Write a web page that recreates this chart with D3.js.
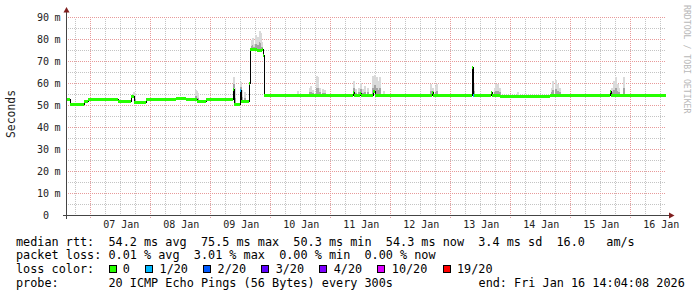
<!DOCTYPE html>
<html>
<head>
<meta charset="utf-8">
<script src="https://cdn.jsdelivr.net/npm/d3@7"></script>
<style>
body { margin: 0; background: #fff; }
svg { display: block; }
text { font-family: "DejaVu Sans Mono", monospace; white-space: pre; }
</style>
</head>
<body>
<div id="chart"></div>
<script>

// time window of the graph
var rangeStart = "2026-01-06 14:04",
    rangeEnd = "2026-01-16 14:04";

// median rtt, as steps (value holds until next time)
var medianTimes = [
  "2026-01-06 14:04","2026-01-06 15:40","2026-01-06 21:16","2026-01-06 22:52",
  "2026-01-07 10:52","2026-01-07 16:04","2026-01-07 17:16","2026-01-07 22:04",
  "2026-01-08 10:04","2026-01-08 14:04","2026-01-08 18:28","2026-01-08 22:04",
  "2026-01-09 08:52","2026-01-09 09:16","2026-01-09 11:40","2026-01-09 12:04",
  "2026-01-09 15:16","2026-01-09 15:40","2026-01-09 18:28","2026-01-09 20:28",
  "2026-01-09 20:52","2026-01-09 21:16",
  "2026-01-11 08:52","2026-01-11 09:16","2026-01-11 11:40","2026-01-11 12:04",
  "2026-01-11 16:52","2026-01-11 17:40",
  "2026-01-12 16:28","2026-01-12 16:52",
  "2026-01-13 08:28","2026-01-13 08:52","2026-01-13 09:16",
  "2026-01-13 16:04","2026-01-13 16:28","2026-01-13 19:40",
  "2026-01-14 15:40",
  "2026-01-15 15:40","2026-01-15 16:04",
  "2026-01-16 14:04"];
var medianMs = [
  52.9, 50.4, 52.0, 52.9,
  52.0, 54.2, 51.5, 52.9,
  53.3, 52.9, 52.0, 52.8,
  57.5, 50.6, 57.0, 52.0,
  59.8, 75.6, 75.1, 75.3,
  72.9, 54.6,
  56.0, 54.6, 55.5, 54.6,
  56.5, 54.6,
  55.8, 54.6,
  67.5, 54.6, 54.6,
  56.0, 54.6, 54.3,
  54.6,
  56.5, 54.6,
  54.6];
// index into lossColors
var medianLoss = [
  0,0,0,0, 0,0,0,0, 0,0,0,0,
  0,0,1,0, 0,0,0,0, 0,0,
  0,0,0,0, 0,0, 0,0,
  0,1,0, 0,0,0, 0, 0,0, 0];

// smoke: highest ping around these times
var smokeTimes = [
  "2026-01-07 16:52","2026-01-07 17:16",
  "2026-01-08 17:40","2026-01-08 18:04","2026-01-08 18:28",
  "2026-01-09 08:52","2026-01-09 09:16","2026-01-09 11:40","2026-01-09 12:04","2026-01-09 13:16",
  "2026-01-09 16:04","2026-01-09 16:28","2026-01-09 16:52","2026-01-09 17:40","2026-01-09 18:28",
  "2026-01-09 19:16","2026-01-09 19:40","2026-01-09 20:04",
  "2026-01-10 10:28","2026-01-10 15:16","2026-01-10 15:40","2026-01-10 16:28","2026-01-10 18:04",
  "2026-01-10 18:28","2026-01-10 19:16","2026-01-10 20:28","2026-01-10 21:16",
  "2026-01-11 08:52","2026-01-11 09:40","2026-01-11 10:52","2026-01-11 11:40","2026-01-11 12:28",
  "2026-01-11 13:16","2026-01-11 14:28","2026-01-11 16:28","2026-01-11 17:16","2026-01-11 18:04",
  "2026-01-11 18:52","2026-01-11 19:40","2026-01-11 20:52",
  "2026-01-12 15:40","2026-01-12 16:28","2026-01-12 17:40","2026-01-12 18:28",
  "2026-01-13 08:28","2026-01-13 08:52",
  "2026-01-13 17:16","2026-01-13 17:40","2026-01-13 18:28","2026-01-13 19:16",
  "2026-01-14 02:28","2026-01-14 16:04","2026-01-14 16:52","2026-01-14 17:40","2026-01-14 18:28",
  "2026-01-14 19:16",
  "2026-01-15 16:04","2026-01-15 16:52","2026-01-15 17:40","2026-01-15 18:28","2026-01-15 19:16",
  "2026-01-15 20:52"];
var smokeTop = [
  56.2, 55.5,
  57.0, 56.5, 55.8,
  63.0, 58.0, 60.7, 57.0, 56.0,
  79.7, 80.5, 78.0, 82.0, 81.0,
  84.0, 83.0, 79.0,
  56.6, 58.0, 59.0, 57.0, 63.3,
  63.0, 58.0, 57.7, 57.0,
  61.0, 57.5, 58.0, 60.3, 57.5,
  59.0, 58.0, 63.5, 63.7, 63.0,
  61.0, 63.0, 56.5,
  60.0, 58.0, 59.0, 60.0,
  67.5, 60.0,
  58.0, 60.0, 60.0, 58.0,
  56.0, 58.0, 61.0, 61.8, 60.0,
  58.0,
  58.0, 61.0, 63.0, 60.0, 58.0,
  63.0];

var yTicks = [0, 10, 20, 30, 40, 50, 60, 70, 80, 90];
var xTickTimes = ["2026-01-07 12:00","2026-01-08 12:00","2026-01-09 12:00","2026-01-10 12:00",
  "2026-01-11 12:00","2026-01-12 12:00","2026-01-13 12:00","2026-01-14 12:00",
  "2026-01-15 12:00","2026-01-16 12:00"];

var lossLabels = ["0", "1/20", "2/20", "3/20", "4/20", "10/20", "19/20"];
var lossColors = ["#26ff00", "#00b8ff", "#0059ff", "#5e00ff", "#7e00ff", "#dd00ff", "#ff0000"];

var legendRtt = "median rtt:  54.2 ms avg  75.5 ms max  50.3 ms min  54.3 ms now  3.4 ms sd  16.0   am/s";
var legendLoss = "packet loss: 0.01 % avg  3.01 % max  0.00 % min  0.00 % now";
var legendProbe = "probe:       20 ICMP Echo Pings (56 Bytes) every 300s";
var legendEnd = "end: Fri Jan 16 14:04:08 2026";


var W = 697, H = 297;
var margin = {top: 17.5, left: 66},
    width = 600,
    height = 198;

var parseTime = d3.timeParse("%Y-%m-%d %H:%M");
var t0 = parseTime(rangeStart), t1 = parseTime(rangeEnd);

var x = d3.scaleTime().domain([t0, t1]).range([margin.left, margin.left + width]);
var y = d3.scaleLinear().domain([0, 90]).range([margin.top + height, margin.top]);

var median = medianTimes.map(function(t, i) {
  return {t: parseTime(t), v: medianMs[i], loss: medianLoss[i]};
});
var smoke = smokeTimes.map(function(t, i) {
  return {t: parseTime(t), top: smokeTop[i]};
});

var svg = d3.select("#chart").append("svg")
    .attr("width", W)
    .attr("height", H)
    .attr("shape-rendering", "crispEdges");

svg.append("rect").attr("width", W).attr("height", H).attr("fill", "#fff");

// grid
function px(v) { return Math.floor(v) + 0.5; }

var grid = svg.append("g");
var x0 = margin.left, x1 = margin.left + width;

var minorY = d3.range(5, 90, 10);
grid.selectAll(".hminor").data(minorY).enter().append("line")
    .attr("x1", x0).attr("x2", x1)
    .attr("y1", function(d) { return px(y(d)); })
    .attr("y2", function(d) { return px(y(d)); })
    .attr("stroke", "#c4c4c4").attr("stroke-dasharray", "1,1");

var sixHours = d3.timeHour.every(6).range(t0, t1).filter(function(d) { return d.getHours() !== 0; });
grid.selectAll(".vminor").data(sixHours).enter().append("line")
    .attr("y1", y(0)).attr("y2", y(90))
    .attr("x1", function(d) { return px(x(d)); })
    .attr("x2", function(d) { return px(x(d)); })
    .attr("stroke", "#c4c4c4").attr("stroke-dasharray", "1,1");

grid.selectAll(".hmajor").data(yTicks.slice(1)).enter().append("line")
    .attr("x1", x0).attr("x2", x1)
    .attr("y1", function(d) { return px(y(d)); })
    .attr("y2", function(d) { return px(y(d)); })
    .attr("stroke", "#e89a9a").attr("stroke-dasharray", "1,1");

var days = d3.timeDay.range(t0, t1);
grid.selectAll(".vmajor").data(days).enter().append("line")
    .attr("y1", y(0) + 2).attr("y2", y(90))
    .attr("x1", function(d) { return px(x(d)); })
    .attr("x2", function(d) { return px(x(d)); })
    .attr("stroke", "#e89a9a").attr("stroke-dasharray", "1,1");

// smoke
var bisect = d3.bisector(function(d) { return d.t; }).right;
function medianAt(t) {
  var i = Math.max(0, bisect(median, t) - 1);
  return median[i].v;
}

var smokeG = svg.append("g");
smoke.forEach(function(s) {
  var m = medianAt(s.t);
  var xs = Math.floor(x(s.t));
  smokeG.append("rect")
      .attr("x", xs).attr("width", 2)
      .attr("y", y(s.top)).attr("height", Math.max(0, y(m) - y(s.top)))
      .attr("fill", "#dadada");
  var mid = m + (s.top - m) * 0.4;
  smokeG.append("rect")
      .attr("x", xs).attr("width", 2)
      .attr("y", y(mid)).attr("height", Math.max(0, y(m) - y(mid)))
      .attr("fill", "#a4a4a4");
});

// median: thin dark step line, then loss coloured segments
var stepLine = d3.line()
    .x(function(d) { return x(d.t); })
    .y(function(d) { return px(y(d.v)); })
    .curve(d3.curveStepAfter);

svg.append("path")
    .datum(median)
    .attr("d", stepLine)
    .attr("fill", "none")
    .attr("stroke", "#000")
    .attr("stroke-width", 1);

svg.append("g").selectAll("line")
    .data(median.slice(0, -1))
    .enter().append("line")
    .attr("x1", function(d) { return x(d.t); })
    .attr("x2", function(d, i) { return x(median[i + 1].t); })
    .attr("y1", function(d) { return px(y(d.v)); })
    .attr("y2", function(d) { return px(y(d.v)); })
    .attr("stroke", function(d) { return lossColors[d.loss]; })
    .attr("stroke-width", 3);

// axes
var yAxis = svg.append("g")
    .attr("transform", "translate(" + margin.left + ",0)")
    .call(d3.axisLeft(y).tickValues(yTicks).tickSize(0).tickPadding(17).tickFormat(d3.format("d")));
yAxis.select(".domain").remove();
yAxis.selectAll("text")
    .attr("font-family", "DejaVu Sans Mono")
    .attr("font-size", 10)
    .attr("fill", "#222")
    .attr("dy", "0.3em");
yAxis.selectAll(".tick").filter(function(d) { return d > 0; })
    .append("text")
    .attr("x", -11.5)
    .attr("dy", "0.3em")
    .attr("font-family", "DejaVu Sans Mono")
    .attr("font-size", 10)
    .attr("fill", "#222")
    .attr("text-anchor", "start")
    .text("m");

var xAxis = svg.append("g")
    .attr("transform", "translate(0," + (y(0)) + ")")
    .call(d3.axisBottom(x).tickValues(xTickTimes.map(parseTime)).tickSize(0).tickPadding(5.5)
      .tickFormat(d3.timeFormat("%d %b")));
xAxis.select(".domain").remove();
xAxis.selectAll("text")
    .attr("font-family", "DejaVu Sans Mono")
    .attr("font-size", 10)
    .attr("fill", "#222");

// axis lines and arrows
svg.append("line")
    .attr("x1", margin.left + 0.5).attr("x2", margin.left + 0.5)
    .attr("y1", y(0) + 3).attr("y2", 12)
    .attr("stroke", "#444");
svg.append("line")
    .attr("x1", margin.left - 3).attr("x2", margin.left + width + 4)
    .attr("y1", y(0)).attr("y2", y(0))
    .attr("stroke", "#444");
svg.append("path")
    .attr("d", "M63.5,12.5L69.5,12.5L66.5,7Z")
    .attr("fill", "#7f1f1f")
    .attr("shape-rendering", "auto");
svg.append("path")
    .attr("d", "M669," + (y(0) - 3) + "L669," + (y(0) + 3) + "L674.5," + y(0) + "Z")
    .attr("fill", "#7f1f1f")
    .attr("shape-rendering", "auto");

// axis title
svg.append("text")
    .attr("transform", "translate(14.5,114) rotate(-90)")
    .attr("text-anchor", "middle")
    .attr("font-size", 11.4)
    .attr("fill", "#222")
    .text("Seconds");

// watermark
svg.append("text")
    .attr("transform", "translate(684,5) rotate(90)")
    .attr("font-size", 8.2)
    .attr("fill", "#b8b8b8")
    .text("RRDTOOL / TOBI OETIKER");

// legend
var fs = 11.82, cw = fs * 0.602;
var legend = svg.append("g")
    .attr("font-size", fs)
    .attr("fill", "#000");

function legendText(xp, yp, s) {
  return legend.append("text")
      .attr("xml:space", "preserve")
      .style("white-space", "pre")
      .attr("x", xp).attr("y", yp).text(s);
}

legendText(16, 245.5, legendRtt);
legendText(16, 259, legendLoss);
legendText(16, 273, "loss color:");
legendText(16, 287, legendProbe);
legendText(16 + 65 * cw, 287, legendEnd);

var bx = 16 + 13 * cw;
lossLabels.forEach(function(lab, i) {
  legend.append("rect")
      .attr("x", Math.round(bx) + 0.5).attr("y", 265.5)
      .attr("width", 7).attr("height", 7)
      .attr("fill", lossColors[i])
      .attr("stroke", "#000");
  var tx = bx + 14.3;
  legendText(tx, 273, lab);
  bx = tx + lab.length * cw + 15.3;
});

</script>
</body>
</html>
